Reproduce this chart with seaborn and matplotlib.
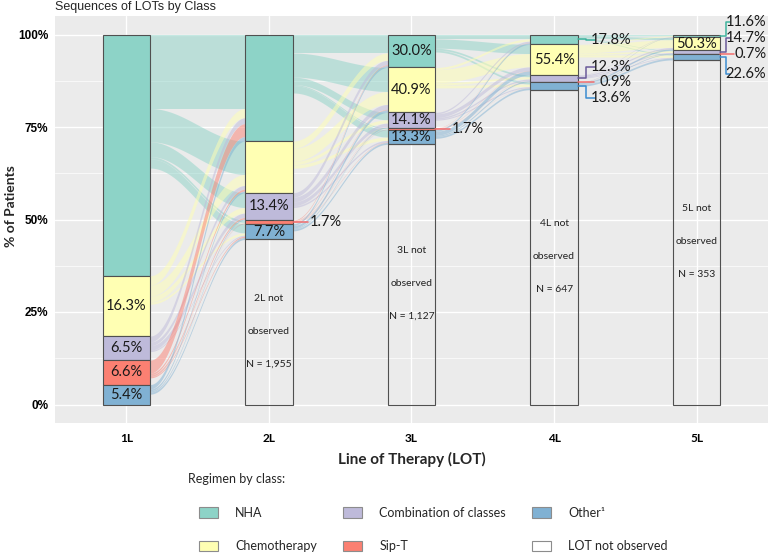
import numpy as np
import matplotlib.pyplot as plt
from matplotlib.patches import Patch
import seaborn as sns

lines = ['1L', '2L', '3L', '4L', '5L']
classes = ['NHA', 'Chemotherapy', 'Combination of classes', 'Sip-T', 'Other']
legend_labels = ['NHA', 'Chemotherapy', 'Combination of classes', 'Sip-T', 'Other¹', 'LOT not observed']

total_n = 4383
not_observed_n = [0, 1955, 1127, 647, 353]

# % of patients treated at each line, by class (same order as classes)
pct_1l = [65.2, 16.3, 6.5, 6.6, 5.4]
pct_2l = [52.0, 25.2, 13.4, 1.7, 7.7]
pct_3l = [30.0, 40.9, 14.1, 1.7, 13.3]
pct_4l = [17.8, 55.4, 12.3, 0.9, 13.6]
pct_5l = [11.6, 50.3, 14.7, 0.7, 22.6]

# transitions in % of all patients, rows = class at line k, cols = class at line k+1
flow_1_2 = [[20.0, 9.0, 4.0, 0.6, 2.5],
            [2.5, 3.0, 1.5, 0.1, 0.6],
            [1.6, 1.0, 1.2, 0.1, 0.3],
            [3.5, 0.5, 0.4, 0.1, 0.3],
            [1.2, 0.5, 0.3, 0.04, 0.57]]
flow_2_3 = [[5.0, 6.5, 2.0, 0.3, 2.0],
            [2.0, 3.5, 0.9, 0.05, 0.9],
            [1.2, 1.3, 1.0, 0.05, 0.45],
            [0.2, 0.14, 0.08, 0.05, 0.1],
            [0.5, 0.7, 0.2, 0.05, 0.5]]
flow_3_4 = [[1.2, 2.5, 0.5, 0.03, 0.5],
            [0.6, 3.6, 0.6, 0.04, 0.7],
            [0.4, 1.0, 0.4, 0.02, 0.3],
            [0.06, 0.07, 0.04, 0.02, 0.03],
            [0.4, 1.1, 0.3, 0.02, 0.5]]
flow_4_5 = [[0.35, 0.6, 0.15, 0.01, 0.25],
            [0.25, 2.1, 0.45, 0.02, 0.6],
            [0.1, 0.35, 0.25, 0.01, 0.2],
            [0.01, 0.02, 0.01, 0.005, 0.01],
            [0.09, 0.39, 0.15, 0.005, 0.49]]

sns.set_theme(style="darkgrid", rc={"axes.facecolor": "#EBEBEB", "grid.color": "white",
                                    "figure.facecolor": "white"})
plt.rcParams['font.family'] = ['Lato', 'DejaVu Sans']
palette = sns.color_palette("Set3", 5)
line_cols = ['#3FB39E', '#C9C95A', '#6B5B9A', '#F26D6D', '#3C8DD0']
edge = '#505050'

pcts = np.array([pct_1l, pct_2l, pct_3l, pct_4l, pct_5l])
flows = [np.array(f) for f in (flow_1_2, flow_2_3, flow_3_4, flow_4_5)]
obs = 100 * (total_n - np.cumsum(not_observed_n)) / total_n
heights = pcts / 100 * obs[:, None]
bottoms = np.zeros_like(heights)
for k in range(5):
    base = 100 - obs[k]
    for c in range(4, -1, -1):
        bottoms[k, c] = base
        base += heights[k, c]
tops = bottoms + heights

fig = plt.figure(figsize=(7.69, 5.55), dpi=100)
ax = fig.add_axes([55 / 769, 132 / 555, 713 / 769, 407 / 555])
xpos = np.arange(1, 6)
w = 1 / 3

# alluvial ribbons
t = np.linspace(0, 1, 80)
s = (1 - np.cos(np.pi * t)) / 2
for k, f in enumerate(flows):
    out_cur = tops[k].copy()
    in_cur = tops[k + 1].copy()
    x = xpos[k] + w / 2 + (1 - w) * t
    for i in range(5):
        for j in range(5):
            v = f[i, j]
            y0, y1 = out_cur[i], in_cur[j]
            ax.fill_between(x, y0 - v + (y1 - y0) * s, y0 + (y1 - y0) * s,
                            color=palette[i], alpha=0.5, lw=0, zorder=1)
            out_cur[i] -= v
            in_cur[j] -= v

# strata
for c in range(5):
    ax.bar(xpos, heights[:, c], bottom=bottoms[:, c], width=w, color=palette[c],
           edgecolor=edge, linewidth=0.8, zorder=3)
ax.bar(xpos[1:], (100 - obs)[1:], width=w, fill=False, edgecolor=edge, linewidth=0.8, zorder=3)

# labels inside strata
inside = {0: [1, 2, 3, 4], 1: [2, 4], 2: [0, 1, 2, 4], 3: [1], 4: [1]}
for k, cs in inside.items():
    for c in cs:
        ax.text(xpos[k], (bottoms[k, c] + tops[k, c]) / 2, f"{pcts[k, c]:.1f}%",
                ha='center', va='center', fontsize=10.5, color='#1a1a1a', zorder=4)

# labels outside strata with connectors: (line, class, text y, elbow x, line end x, text x, ha)
outside = [(1, 3, None, None, 2.273, 2.285, 'left'),
           (2, 3, None, None, 3.273, 3.285, 'left'),
           (3, 0, 98.6, 4.226, 4.289, 4.541, 'right'),
           (3, 2, 91.2, 4.226, 4.289, 4.541, 'right'),
           (3, 3, None, None, 4.28, 4.541, 'right'),
           (3, 4, 82.8, 4.226, 4.289, 4.541, 'right'),
           (4, 0, 103.3, 5.208, 5.236, 5.488, 'right'),
           (4, 2, 99.1, 5.208, 5.236, 5.488, 'right'),
           (4, 3, None, None, 5.264, 5.488, 'right'),
           (4, 4, 89.4, 5.208, 5.236, 5.488, 'right')]
for k, c, ty, ex, lx, tx, ha in outside:
    mid = (bottoms[k, c] + tops[k, c]) / 2
    x0 = xpos[k] + w / 2
    if ty is None:
        ax.plot([x0, lx], [mid, mid], color=line_cols[c], lw=1.1, zorder=4, clip_on=False)
        ty = mid
    else:
        ax.plot([x0, ex, ex, lx], [mid, mid, ty, ty], color=line_cols[c], lw=1.1,
                zorder=4, clip_on=False)
    ax.text(tx, ty, f"{pcts[k, c]:.1f}%", ha=ha, va='center', fontsize=10.5,
            color='#1a1a1a', zorder=4)

# not observed notes
for k in range(1, 5):
    cy = (100 - obs[k]) / 2 - 2.5
    for dy, txt in [(8.9, f"{lines[k]} not"), (0, "observed"), (-8.9, f"N = {not_observed_n[k]:,}")]:
        ax.text(xpos[k], cy + dy, txt, ha='center', va='center', fontsize=7.5,
                color='#222222', zorder=4)

ax.set_xlim(0.5, 5.5)
ax.set_ylim(-5, 105)
ax.set_xticks(xpos)
ax.set_xticklabels(lines, fontweight='bold', fontsize=8.5)
ax.set_yticks([0, 25, 50, 75, 100])
ax.set_yticklabels(['0%', '25%', '50%', '75%', '100%'], fontweight='bold', fontsize=8.5,
                   fontfamily='Liberation Sans')
ax.set_yticks([12.5, 37.5, 62.5, 87.5], minor=True)
ax.grid(which='major', color='white', lw=1.0)
ax.grid(which='minor', axis='y', color='white', lw=0.5)
ax.tick_params(which='major', length=2.5, width=0.6, color='#333333', pad=2.5, labelcolor='black')
ax.tick_params(axis='x', pad=5)
ax.tick_params(which='minor', length=0)
for sp in ax.spines.values():
    sp.set_visible(False)

ax.set_xlabel("Line of Therapy (LOT)", fontweight='bold', fontsize=11)
ax.xaxis.set_label_coords(0.5, -0.07)
ax.set_ylabel("% of Patients", fontweight='bold', fontsize=10)
ax.yaxis.set_label_coords(-0.053, 0.534)

fig.text(55 / 769, 1 - 10 / 555, "Sequences of LOTs by Class", fontsize=9,
         fontfamily='Liberation Sans', va='baseline', ha='left')

handles = [Patch(facecolor=palette[i], edgecolor='#8C8C8C', lw=0.8) for i in range(5)]
handles.append(Patch(facecolor='white', edgecolor='#8C8C8C', lw=0.8))
fig.text(188 / 769, 1 - 479 / 555, "Regimen by class:", fontsize=9, va='center', ha='left')
fig.legend(handles, legend_labels, ncol=3, loc='upper left',
           bbox_to_anchor=(199 / 769, 1 - 507 / 555), frameon=False, fontsize=9,
           handlelength=1.52, handleheight=0.96, handletextpad=1.36, columnspacing=2.1,
           labelspacing=1.7, borderpad=0, borderaxespad=0)

fig.savefig('out.png', dpi=100)
